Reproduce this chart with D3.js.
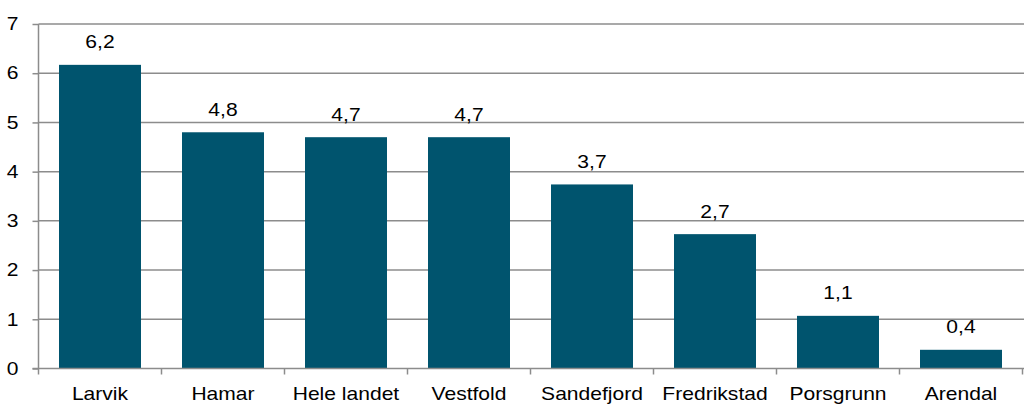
<!DOCTYPE html>
<html><head><meta charset="utf-8">
<script src="https://cdn.jsdelivr.net/npm/d3@7"></script>
<style>
body{margin:0;background:#fff}svg{display:block}
text{font-family:"Liberation Sans",Arial,sans-serif;fill:#000}
.sx{transform-box:fill-box;transform-origin:50% 50%;transform:scaleX(1.17)}
.sxr{transform-box:fill-box;transform-origin:100% 50%;transform:scaleX(1.17)}
</style>
</head><body><svg id="c" width="1024" height="405"></svg>
<script>
const categories = ["Larvik","Hamar","Hele landet","Vestfold","Sandefjord","Fredrikstad","Porsgrunn","Arendal"];
const values = [6.17, 4.80, 4.70, 4.70, 3.74, 2.73, 1.07, 0.38];
const labels = ["6,2","4,8","4,7","4,7","3,7","2,7","1,1","0,4"];
const yTicks = [0,1,2,3,4,5,6,7];

(function(){
const svg = d3.select("#c");
const pL = 38.5, pR = 1022.5, pT = 24, pB = 368.5;
const x = d3.scaleBand().domain(categories).range([pL, pR]).paddingInner(1/3).paddingOuter(1/6);
const y = d3.scaleLinear().domain([0,7]).range([pB, pT]);
const grid = "#8c8c8c";

svg.append("g").selectAll("line").data(yTicks.filter(d=>d>0)).join("line")
  .attr("x1", pL).attr("x2", 1024).attr("y1", d=>y(d)).attr("y2", d=>y(d))
  .attr("stroke", grid).attr("stroke-width", 1.5);

svg.append("g").selectAll("rect").data(categories).join("rect")
  .attr("x", d=>x(d)).attr("width", x.bandwidth())
  .attr("y", (d,i)=>y(values[i])).attr("height", (d,i)=>y(0)-y(values[i]))
  .attr("fill", "#00546e");

const ya = svg.append("g").attr("transform", `translate(${pL},0)`)
  .call(d3.axisLeft(y).tickValues(yTicks).tickSize(6).tickPadding(14).tickFormat(d3.format("d")));
ya.select(".domain").attr("stroke", grid).attr("stroke-width", 1.5).attr("d", `M0,${pT}V${pB}`);
ya.selectAll(".tick line").attr("stroke", grid).attr("stroke-width", 1.5);
ya.selectAll("text").style("font-size", "18px").attr("fill", "#000").attr("class", "sxr");

const xa = svg.append("g").attr("transform", `translate(0,${pB})`)
  .call(d3.axisBottom(x).tickSize(0).tickPadding(19));
xa.select(".domain").attr("stroke", grid).attr("stroke-width", 1.5).attr("d", `M${pL-6},0H1024`);
xa.selectAll("text").style("font-size", "18px").attr("fill", "#000").attr("class", "sx");
const edges = d3.range(categories.length + 1).map(i => pL + i * x.step());
svg.append("g").selectAll("line").data(edges).join("line")
  .attr("x1", d=>d).attr("x2", d=>d).attr("y1", pB).attr("y2", pB+6)
  .attr("stroke", grid).attr("stroke-width", 1.5);

svg.append("g").selectAll("text").data(categories).join("text")
  .attr("class", "sx")
  .attr("x", d=>x(d)+x.bandwidth()/2).attr("y", (d,i)=>y(values[i])-16.5)
  .attr("text-anchor", "middle").style("font-size", "18px").text((d,i)=>labels[i]);
})();
</script></body></html>
